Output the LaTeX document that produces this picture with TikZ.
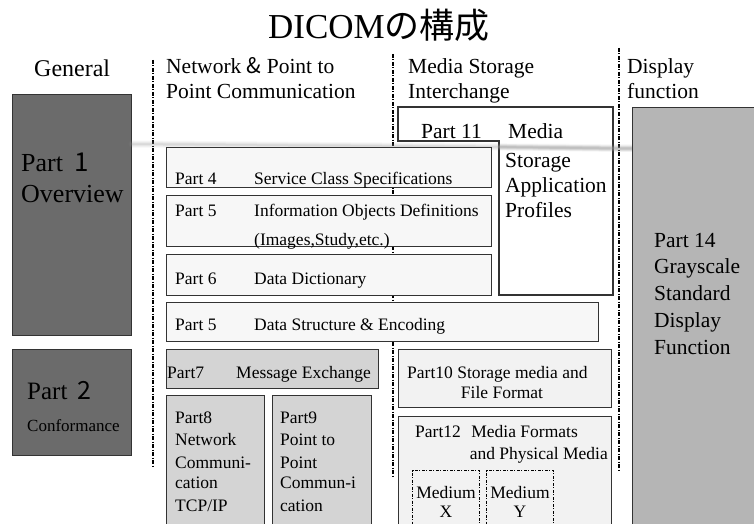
\documentclass[tikz,border=0pt]{standalone}
\usepackage{fontspec}
\setmainfont{Liberation Serif}
\newfontfamily\jp{Noto Sans CJK JP}
\begin{document}
\begin{tikzpicture}[x=1pt,y=-1pt,
  box/.style={draw=black!80, line width=1.3pt, inner sep=0, anchor=north west},
  whitebox/.style={box, fill=black!3},
  palebox/.style={box, fill=black!5},
  greybox/.style={box, fill=black!17},
  midgrey/.style={box, fill=black!29},
  darkbox/.style={box, fill=black!58},
  mediumbox/.style={box, draw=black, fill=black!5, line width=1.2pt,
    dash pattern=on 3pt off 1.5pt on 1pt off 1.5pt},
  sep/.style={black, line width=1.2pt, dash pattern=on 4pt off 1.5pt on 1pt off 1.5pt},
  streak/.style={black!40, line cap=round},
  t/.style={inner sep=0, anchor=base west, font=\fontsize{17.5}{21}\selectfont},
  tc/.style={t, anchor=base},
  tr/.style={t, anchor=base east},
  big/.style={inner sep=0, anchor=base west, font=\fontsize{21.5}{25}\selectfont},
  huge/.style={inner sep=0, anchor=base west, font=\fontsize{26}{30}\selectfont}]

\clip (0,0) rectangle (754,524);
\fill[white] (0,0) rectangle (754,524);

% title
\node[inner sep=0, anchor=base, font=\fontsize{35}{40}\selectfont] (title) at (379,39)
  {DICOM{\jp の構成}};

% column headings
\node[inner sep=0, anchor=base west, font=\fontsize{24}{28}\selectfont] (hgen) at (34,77) {General};
\node[big] (hnet1) at (166,74) {Network {\jp\&} Point to};
\node[big] (hnet2) at (166,99) {Point Communication};
\node[big] (hmed1) at (408,74) {Media Storage};
\node[big] (hmed2) at (408,99) {Interchange};
\node[big] (hdis1) at (627,74) {Display};
\node[big] (hdis2) at (627,99) {function};

% column separators
\coordinate (s1a) at (153,60);  \coordinate (s1b) at (153,468);
\coordinate (s2a) at (393,54);  \coordinate (s2b) at (393,477);
\coordinate (s3a) at (619,48);  \coordinate (s3b) at (619,470);
\draw[sep] (s1a) -- (s1b);
\draw[sep] (s2a) -- (s2b);
\draw[sep] (s3a) -- (s3b);

% General column
\node[darkbox, minimum width=119pt, minimum height=241pt] (p1) at (12,94) {};
\node[huge] (p1a) at (21,171) {Part\hspace{0.45em}{\jp 1}};
\node[huge] (p1b) at (21,202) {Overview};
\node[darkbox, minimum width=119pt, minimum height=106pt] (p2) at (12,349) {};
\node[inner sep=0, anchor=base west, font=\fontsize{25}{30}\selectfont] (p2a) at (27,399) {Part\hspace{0.4em}{\jp 2}};
\node[t, font=\fontsize{17}{20}\selectfont] (p2b) at (27,431) {Conformance};

% Part 11 (partly behind the part 4 to 6 boxes)
\draw[box, fill=white] (398,107) -- (613,107) -- (613,295) -- (499,295)
  -- (499,141) -- (398,141) -- cycle;

% worn streak across the sheet, soft edged
\foreach \w/\o in {7/0.08, 5/0.1, 3/0.12, 1.5/0.12} {
  \draw[streak, opacity=\o, line width=\w pt] (132,144) -- (632,148);
}
\foreach \w/\o in {6/0.1, 4/0.15, 2/0.2} {
  \draw[streak, opacity=\o, line width=\w pt] (500,147) -- (632,149);
}

\node[big] (p11a) at (421,138) {Part 11};
\node[big] (p11b) at (508,138) {Media};
\node[big] (p11c) at (505,167) {Storage};
\node[big] (p11d) at (505,192) {Application};
\node[big] (p11e) at (505,217) {Profiles};

% Network column
\node[whitebox, minimum width=325pt, minimum height=40pt] (p4) at (166,147) {};
\node[t] (p4a) at (175,184) {Part 4};
\node[t] (p4b) at (254,184) {Service Class Specifications};

\node[whitebox, minimum width=325pt, minimum height=51pt] (p5) at (166,195) {};
\node[t] (p5a) at (175,216) {Part 5};
\node[t] (p5b) at (254,216) {Information Objects Definitions};
\node[t] (p5c) at (254,245) {(Images,Study,etc.)};

\node[whitebox, minimum width=325pt, minimum height=41pt] (p6) at (166,254) {};
\node[t] (p6a) at (175,284) {Part 6};
\node[t] (p6b) at (254,284) {Data Dictionary};

\node[whitebox, minimum width=432pt, minimum height=39pt] (pds) at (166,302) {};
\node[t] (pdsa) at (175,330) {Part 5};
\node[t] (pdsb) at (254,330) {Data Structure \& Encoding};

\node[greybox, minimum width=212pt, minimum height=39pt] (p7) at (166,349) {};
\node[t] (p7a) at (167,378) {Part7};
\node[t] (p7b) at (236,378) {Message Exchange};

\node[greybox, minimum width=98pt, minimum height=140pt] (p8) at (166,395) {};
\node[t] (p8a) at (175,423) {Part8};
\node[t] (p8b) at (175,445) {Network};
\node[t] (p8c) at (175,468) {Communi-};
\node[t] (p8d) at (175,488) {cation};
\node[t] (p8e) at (175,511) {TCP/IP};

\node[greybox, minimum width=99pt, minimum height=140pt] (p9) at (272,395) {};
\node[t] (p9a) at (280,423) {Part9};
\node[t] (p9b) at (280,445) {Point to};
\node[t] (p9c) at (280,468) {Point};
\node[t] (p9d) at (280,488) {Commun-i};
\node[t] (p9e) at (280,511) {cation};

% Media storage column
\node[palebox, minimum width=213pt, minimum height=58pt] (p10) at (398,349) {};
\node[t] (p10a) at (407,378) {Part10 Storage media and};
\node[tc] (p10b) at (502,398) {File Format};

\node[palebox, minimum width=213pt, minimum height=120pt] (p12) at (398,416) {};
\node[t] (p12a) at (415,437) {Part12\hspace{0.35em} Media Formats};
\node[tr] (p12b) at (608,459) {and Physical Media};

\node[mediumbox, minimum width=67pt, minimum height=60pt] (mx) at (412,470) {};
\node[tc] (mxa) at (446,498) {Medium};
\node[tc] (mxb) at (446,517) {X};
\node[mediumbox, minimum width=67pt, minimum height=60pt] (my) at (486,470) {};
\node[tc] (mya) at (520,498) {Medium};
\node[tc] (myb) at (520,517) {Y};

% Display column
\node[midgrey, minimum width=130pt, minimum height=430pt] (p14) at (632,107) {};
\node[big] (p14a) at (654,247) {Part 14};
\node[big] (p14b) at (654,273) {Grayscale};
\node[big] (p14c) at (654,300) {Standard};
\node[big] (p14d) at (654,327) {Display};
\node[big] (p14e) at (654,354) {Function};
\end{tikzpicture}
\end{document}
